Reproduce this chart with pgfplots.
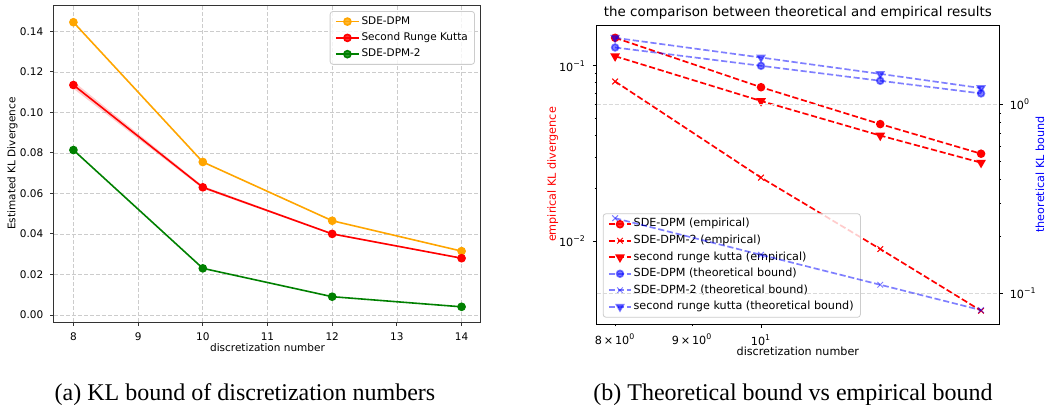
\documentclass[border=0pt]{standalone}
\usepackage{pgfplots}
\pgfplotsset{compat=1.18}
\usepackage{fontspec}
\setmainfont{DejaVu Sans}
\newfontfamily\capfont{Liberation Serif}

\definecolor{mplorange}{HTML}{FFA500}
\definecolor{mplred}{HTML}{FF0000}
\definecolor{mplgreen}{HTML}{008000}
\definecolor{mplblue}{HTML}{0000FF}
\newcommand{\tenp}[1]{10\textsuperscript{#1}}

\begin{document}
\begin{tikzpicture}
\useasboundingbox (0,0) rectangle (522.5pt,202pt);

% ---------------- (a) left panel ----------------
\begin{axis}[
  at={(27pt,41pt)}, anchor=south west,
  scale only axis, width=213.5pt, height=158.5pt,
  xmin=7.7, xmax=14.3, ymin=-0.0035, ymax=0.153,
  xtick={8,9,10,11,12,13,14},
  ytick={0,0.02,0.04,0.06,0.08,0.10,0.12,0.14},
  /pgf/number format/assume math mode=true,
  yticklabel style={/pgf/number format/.cd, fixed, fixed zerofill, precision=2},
  font=\fontsize{5.25pt}{6.3pt}\selectfont,
  tick pos=left, tick align=outside,
  major tick length=1.8pt,
  tick style={black!80, line width=0.4pt},
  axis line style={black!80, line width=0.5pt},
  grid=major,
  major grid style={black!20, dash pattern=on 2pt off 1pt, line width=0.35pt},
  xlabel={discretization number},
  ylabel={Estimated KL Divergence},
  xlabel style={at={(axis description cs:0.5,-0.082)}, anchor=center},
  ylabel style={at={(axis description cs:-0.097,0.5)}, anchor=center},
  legend style={at={(1,1)}, xshift=-3pt, yshift=-3pt, anchor=north east,
                draw=black!20, rounded corners=1.5pt, fill=white,
                fill opacity=0.8, text opacity=1,
                font=\fontsize{5.25pt}{6.3pt}\selectfont,
                inner xsep=2.5pt, inner ysep=1.5pt, row sep=0.9pt,
                nodes={inner sep=0.9pt}},
  legend cell align=left,
  legend image code/.code={\draw[mark repeat=2, mark phase=2]
    plot coordinates {(0pt,0pt)(5.75pt,0pt)(11.5pt,0pt)};},
]
\addplot[draw=none, fill=mplred, fill opacity=0.2, forget plot]
  coordinates {(8,0.1153) (10,0.0637) (12,0.0404) (14,0.0283)
               (14,0.0277) (12,0.0396) (10,0.0623) (8,0.1117)} -- cycle;
\addplot[mplorange, line width=0.8pt, mark=*, mark size=1.75pt]
  coordinates {(8,0.1445) (10,0.0755) (12,0.0465) (14,0.0315)};
\addlegendentry{SDE-DPM}
\addplot[mplred, line width=0.8pt, mark=*, mark size=1.75pt]
  coordinates {(8,0.1135) (10,0.0630) (12,0.0400) (14,0.0280)};
\addlegendentry{Second Runge Kutta}
\addplot[mplgreen, line width=0.8pt, mark=*, mark size=1.75pt]
  coordinates {(8,0.0814) (10,0.0230) (12,0.0090) (14,0.0040)};
\addlegendentry{SDE-DPM-2}
\end{axis}

% ---------------- (b) right panel, empirical (left y axis) ----------------
\begin{axis}[
  at={(298.35pt,40pt)}, anchor=south west,
  scale only axis, width=201.15pt, height=149.5pt,
  xmode=log, ymode=log,
  xmin=7.78, xmax=14.39, ymin=0.00336, ymax=0.171,
  xtick={10}, xticklabels={\tenp{1}},
  extra x ticks={8,9},
  extra x tick labels={8\,×\,\tenp{0}, 9\,×\,\tenp{0}},
  extra x tick style={major tick length=1.2pt},
  ytick={0.01,0.1}, yticklabels={\tenp{−2},\tenp{−1}},
  font=\fontsize{5.6pt}{6.7pt}\selectfont,
  tick pos=left, tick align=outside,
  major tick length=1.9pt, minor tick length=1.1pt,
  tick style={black, line width=0.4pt},
  axis line style={black, line width=0.45pt},
  title={the comparison between theoretical and empirical results},
  title style={at={(axis description cs:0.5,1)}, anchor=center,
               font=\fontsize{6.7pt}{8pt}\selectfont},
  xlabel={discretization number},
  ylabel={empirical KL divergence},
  xlabel style={at={(axis description cs:0.5,-0.093)}, anchor=center},
  ylabel style={at={(axis description cs:-0.109,0.5)}, anchor=center, text=mplred},
  legend style={at={(0.015,0.021)}, anchor=south west,
                draw=black!20, rounded corners=1.5pt, fill=white,
                fill opacity=0.8, text opacity=1,
                font=\fontsize{5.6pt}{6.7pt}\selectfont,
                inner xsep=2.5pt, inner ysep=1.5pt, row sep=0.7pt,
                nodes={inner sep=0.9pt}},
  legend cell align=left,
  legend image code/.code={\draw[mark repeat=2, mark phase=2]
    plot coordinates {(0pt,0pt)(5.5pt,0pt)(11pt,0pt)};},
]
\addplot[mplred, line width=0.84pt, dash pattern=on 3.1pt off 1.35pt,
         mark=*, mark size=1.7pt, mark options={solid}]
  coordinates {(8,0.1445) (10,0.0755) (12,0.0465) (14,0.0315)};
\addlegendentry{SDE-DPM (empirical)}
\addplot[mplred, line width=0.84pt, dash pattern=on 3.1pt off 1.35pt,
         mark=x, mark size=2pt, mark options={solid, line width=0.5pt}]
  coordinates {(8,0.0814) (10,0.0230) (12,0.0090) (14,0.0040)};
\addlegendentry{SDE-DPM-2 (empirical)}
\addplot[mplred, line width=0.84pt, dash pattern=on 3.1pt off 1.35pt,
         mark=triangle*, mark size=2pt, mark options={solid, rotate=180}]
  coordinates {(8,0.1135) (10,0.0630) (12,0.0400) (14,0.0280)};
\addlegendentry{second runge kutta (empirical)}
\addlegendimage{mplblue, opacity=0.5, line width=0.84pt,
  dash pattern=on 3.1pt off 1.35pt, mark=*, mark size=1.7pt, mark options={solid}}
\addlegendentry{SDE-DPM (theoretical bound)}
\addlegendimage{mplblue, opacity=0.5, line width=0.84pt,
  dash pattern=on 3.1pt off 1.35pt, mark=x, mark size=2pt,
  mark options={solid, line width=0.5pt}}
\addlegendentry{SDE-DPM-2 (theoretical bound)}
\addlegendimage{mplblue, opacity=0.5, line width=0.84pt,
  dash pattern=on 3.1pt off 1.35pt, mark=triangle*, mark size=2pt,
  mark options={solid, rotate=180}}
\addlegendentry{second runge kutta (theoretical bound)}
\end{axis}

% ---------------- (b) right panel, theoretical (right y axis) ----------------
\begin{axis}[
  at={(298.35pt,40pt)}, anchor=south west,
  scale only axis, width=201.15pt, height=149.5pt,
  xmode=log, ymode=log,
  xmin=7.78, xmax=14.39, ymin=0.0689, ymax=2.63,
  axis x line=none, axis y line*=right,
  ytick={0.1,1}, yticklabels={\tenp{−1},\tenp{0}},
  font=\fontsize{5.6pt}{6.7pt}\selectfont,
  tick align=outside,
  major tick length=1.9pt, minor tick length=1.1pt,
  tick style={black, line width=0.4pt},
  axis line style={black, line width=0.45pt},
  ymajorgrids,
  major grid style={black!15, dash pattern=on 2pt off 1pt, line width=0.35pt},
  ylabel={theoretical KL bound},
  ylabel style={at={(axis description cs:1.102,0.5)}, anchor=center, text=mplblue},
]
\addplot[mplblue, opacity=0.5, line width=0.84pt, dash pattern=on 3.1pt off 1.35pt,
         mark=*, mark size=1.7pt, mark options={solid}]
  coordinates {(8,2.0) (10,1.6) (12,1.3333) (14,1.1429)};
\addplot[mplblue, opacity=0.5, line width=0.84pt, dash pattern=on 3.1pt off 1.35pt,
         mark=x, mark size=2pt, mark options={solid, line width=0.5pt}]
  coordinates {(8,0.25) (10,0.16) (12,0.1111) (14,0.0816)};
\addplot[mplblue, opacity=0.5, line width=0.84pt, dash pattern=on 3.1pt off 1.35pt,
         mark=triangle*, mark size=2pt, mark options={solid, rotate=180}]
  coordinates {(8,2.25) (10,1.77) (12,1.45) (14,1.22)};
\end{axis}

% captions
\node[font=\capfont\fontsize{12pt}{14pt}\selectfont, anchor=base]
  at (122.5pt,1.8pt) {(a) KL bound of discretization numbers};
\node[font=\capfont\fontsize{12pt}{14pt}\selectfont, anchor=base]
  at (396.5pt,1.8pt) {(b) Theoretical bound vs empirical bound};
\end{tikzpicture}
\end{document}
